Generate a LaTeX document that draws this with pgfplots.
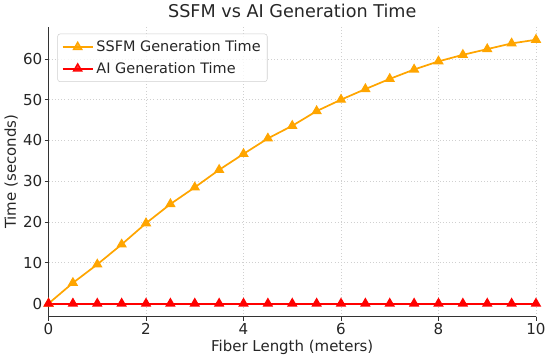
\documentclass[border=0pt]{standalone}
\usepackage{pgfplots}
\pgfplotsset{compat=1.18}
\usepackage{fontspec}
\setmainfont{DejaVu Sans}
\definecolor{ssfm}{HTML}{FFA500}
\definecolor{gridc}{HTML}{D0D0D0}
\begin{document}
\begin{tikzpicture}
\begin{axis}[
  scale only axis,
  width=368pt, height=219pt,
  xmin=0, xmax=10,
  ymin=-3.24, ymax=67.9,
  xtick={0,2,4,6,8,10},
  ytick={0,10,20,30,40,50,60},
  axis x line*=bottom,
  axis y line*=left,
  axis line style={black!80, line width=0.8pt},
  x axis line style={-},
  y axis line style={-},
  tick style={black!80, line width=0.6pt},
  tick align=outside,
  major tick length=3pt,
  grid=major,
  grid style={gridc, dotted, line width=0.5pt},
  /pgf/number format/assume math mode=true,
  tick label style={font=\fontsize{11.4}{13}\selectfont, text=black!85},
  yticklabel style={inner xsep=1.5pt},
  xticklabel style={inner ysep=2pt},
  xlabel={Fiber Length (meters)},
  ylabel={Time (seconds)},
  label style={font=\fontsize{11.3}{13}\selectfont, text=black!85},
  xlabel style={yshift=2pt},
  ylabel style={yshift=-1pt},
  title={SSFM vs AI Generation Time},
  title style={font=\fontsize{13.3}{15}\selectfont, text=black!85, yshift=-3pt},
  legend style={font=\fontsize{10.9}{12.5}\selectfont, text=black!85, draw=gridc, rounded corners=2pt, fill=white, fill opacity=0.8, text opacity=1, at={(0.018,0.976)}, anchor=north west, inner xsep=3pt, inner ysep=3pt, row sep=2.5pt},
  legend cell align=left,
  legend image code/.code={
    \draw[#1, mark=none] (0cm,0cm) -- (0.8cm,0cm);
    \draw[#1, only marks] plot coordinates {(0.4cm,0cm)};
  },
]
\addplot[draw=ssfm, line width=1.3pt, mark=triangle*, mark size=3.6pt, mark options={solid, fill=ssfm, draw=ssfm, line width=1pt}] coordinates {
(0,0) (0.5,5.07) (1,9.6) (1.5,14.5) (2,19.7) (2.5,24.4) (3,28.5) (3.5,32.8) (4,36.7) (4.5,40.5) (5,43.6) (5.5,47.2) (6,50.0) (6.5,52.6) (7,55.1) (7.5,57.4) (8,59.4) (8.5,61.0) (9,62.4) (9.5,63.8) (10,64.7)
};
\addlegendentry{SSFM Generation Time}
\addplot[draw=red, line width=1.6pt, mark=triangle*, mark size=3.6pt, mark options={solid, fill=red, draw=red, line width=1pt}] coordinates {
(0,0) (0.5,0) (1,0) (1.5,0) (2,0) (2.5,0) (3,0) (3.5,0) (4,0) (4.5,0) (5,0) (5.5,0) (6,0) (6.5,0) (7,0) (7.5,0) (8,0) (8.5,0) (9,0) (9.5,0) (10,0)
};
\addlegendentry{AI Generation Time}
\end{axis}
\end{tikzpicture}
\end{document}
